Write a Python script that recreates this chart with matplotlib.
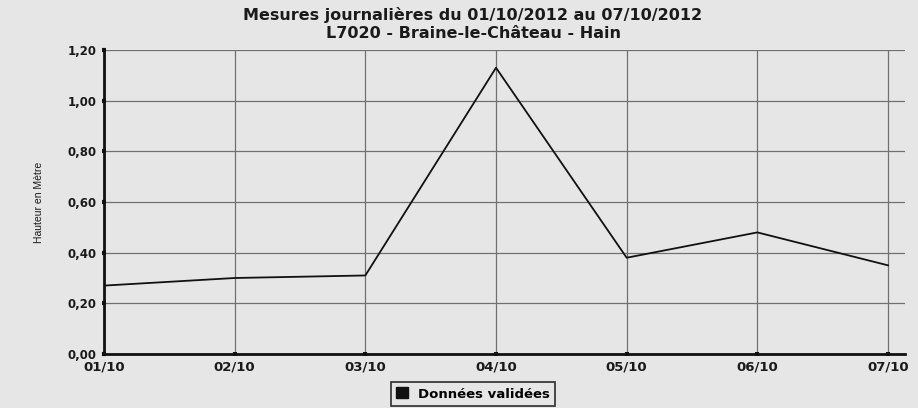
import matplotlib
matplotlib.use("Agg")
import matplotlib.pyplot as plt
from matplotlib.patches import Patch

dates = ["01/10", "02/10", "03/10", "04/10", "05/10", "06/10", "07/10"]
hauteur = [0.27, 0.30, 0.31, 1.13, 0.38, 0.48, 0.35]
yticks = [0.0, 0.2, 0.4, 0.6, 0.8, 1.0, 1.2]
ytick_labels = ["0,00", "0,20", "0,40", "0,60", "0,80", "1,00", "1,20"]

plt.rcParams['font.family'] = ['DejaVu Sans']
bg = "#e6e6e6"
txt = "#1a1a1a"
fig = plt.figure(figsize=(9.18, 4.08), dpi=100, facecolor=bg)
ax = fig.add_axes([104/918, 1 - 354/408, (905-104)/918, (354-50)/408])
ax.set_facecolor(bg)

x = list(range(len(dates)))
ax.plot(x, hauteur, color="#111111", lw=1.3, zorder=3)

ax.set_xlim(0, (len(dates) - 1) * (905 - 104) / (888 - 104))
ax.set_ylim(0, 1.2)
ax.set_xticks(x)
ax.set_xticklabels(dates, fontsize=9.5, fontweight="bold", color=txt)
ax.set_yticks(yticks)
ax.set_yticklabels(ytick_labels, fontsize=8.5, fontweight="bold", color=txt)
ax.grid(True, color="#707070", lw=0.9)
ax.tick_params(axis="both", length=3, width=3, color="#111111", direction="inout")
ax.tick_params(axis="x", pad=3)
ax.tick_params(axis="y", pad=4)
for s in ["top", "right"]:
    ax.spines[s].set_visible(False)
for s in ["left", "bottom"]:
    ax.spines[s].set_linewidth(2)
    ax.spines[s].set_color("#111111")

ax.set_ylabel("Hauteur en Mètre", fontsize=7.5, color=txt, labelpad=17,
              family=["Liberation Sans Narrow", "Liberation Sans", "DejaVu Sans"])

cx = 473 / 918
fig.text(cx, 1 - 15/408, "Mesures journalières du 01/10/2012 au 07/10/2012",
         ha="center", va="center", fontsize=11.5, fontweight="bold", color=txt)
fig.text(cx, 1 - 33/408, "L7020 - Braine-le-Château - Hain",
         ha="center", va="center", fontsize=11.5, fontweight="bold", color=txt)

leg = fig.legend(handles=[Patch(facecolor="#111111", edgecolor="#111111", label="Données validées")],
                 loc="center", bbox_to_anchor=(cx, 1 - 394/408),
                 fontsize=9.5, frameon=True, fancybox=False, edgecolor="#111111",
                 handlelength=0.9, handleheight=0.9, borderpad=0.4, handletextpad=0.8)
leg.get_frame().set_facecolor(bg)
leg.get_frame().set_linewidth(1.3)
for t in leg.get_texts():
    t.set_fontweight("bold")

fig.savefig("out.png", dpi=100, facecolor=bg)
